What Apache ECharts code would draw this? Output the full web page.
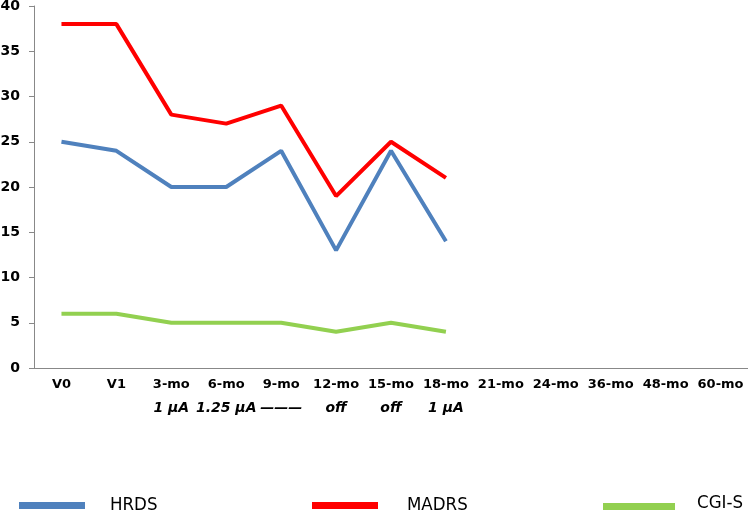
<!DOCTYPE html>
<html><head><meta charset="utf-8">
<script src="https://cdn.jsdelivr.net/npm/echarts@6/dist/echarts.min.js"></script>
<style>html,body{margin:0;padding:0;background:#fff}#c{width:748px;height:512px}</style>
</head><body><div id="c"></div>
<script>
const categories = ['V0','V1','3-mo','6-mo','9-mo','12-mo','15-mo','18-mo','21-mo','24-mo','36-mo','48-mo','60-mo'];
const doseLabels = ['','','1 µA','1.25 µA','———','off','off','1 µA','','','','',''];
const hrds  = [25,24,20,20,24,13,24,14];
const madrs = [38,38,28,27,29,19,25,21];
const cgis  = [6,6,5,5,5,4,5,4];
const yTicks = {min:0, max:40, interval:5};

const font = 'DejaVu Sans';
const legendFont = "'DejaVu Sans Condensed', 'Liberation Sans', sans-serif";
const chart = echarts.init(document.getElementById('c'));
const legendText = (pad) => ({fontFamily: legendFont, fontSize: 18.5, lineHeight: 24, color: '#000', padding: pad});
const legendBase = {
  top: 488.5, icon: 'rect', itemWidth: 66, itemHeight: 7, itemGap: 0,
  selectedMode: false
};
chart.setOption({
  animation: false,
  grid: {left: 34, right: 0, top: 6, bottom: 144, containLabel: false, outerBoundsMode: 'none'},
  legend: [
    Object.assign({}, legendBase, {data: ['HRDS'], left: 14, textStyle: legendText([0,0,0,20])}),
    Object.assign({}, legendBase, {data: ['MADRS'], left: 307, textStyle: legendText([0,0,0,24])}),
    Object.assign({}, legendBase, {data: ['CGI-S'], left: 598, itemWidth: 72,
      formatter: n => '{u|' + n + '}',
      textStyle: Object.assign(legendText([0,0,0,17]), {
        rich: {u: {fontFamily: legendFont, fontSize: 18.5, lineHeight: 24, color: '#000', padding: [0,0,7,0]}}
      })})
  ],
  xAxis: [{
    type: 'category', data: categories, boundaryGap: true,
    axisLine: {lineStyle: {color: '#888'}},
    axisTick: {lineStyle: {color: '#888'}, length: 5},
    axisLabel: {interval: 0, color: '#000', fontFamily: font, fontSize: 13, fontWeight: 'bold', margin: 10}
  }, {
    type: 'category', data: doseLabels, position: 'bottom', offset: 23,
    axisLine: {show: false}, axisTick: {show: false},
    axisLabel: {interval: 0, color: '#000', fontFamily: font, fontSize: 14,
      fontWeight: 'bold', fontStyle: 'italic', margin: 10}
  }],
  yAxis: {
    type: 'value', min: yTicks.min, max: yTicks.max, interval: yTicks.interval,
    axisLine: {show: true, lineStyle: {color: '#888'}},
    axisTick: {show: true, lineStyle: {color: '#888'}, length: 5},
    splitLine: {show: false},
    axisLabel: {color: '#000', fontFamily: font, fontSize: 14, fontWeight: 'bold', margin: 14}
  },
  series: [
    {name: 'HRDS', type: 'line', data: hrds, showSymbol: false, color: '#4F81BD', lineStyle: {width: 4}},
    {name: 'MADRS', type: 'line', data: madrs, showSymbol: false, color: '#FF0000', lineStyle: {width: 4}},
    {name: 'CGI-S', type: 'line', data: cgis, showSymbol: false, color: '#92D050', lineStyle: {width: 4}}
  ]
});
</script></body></html>
